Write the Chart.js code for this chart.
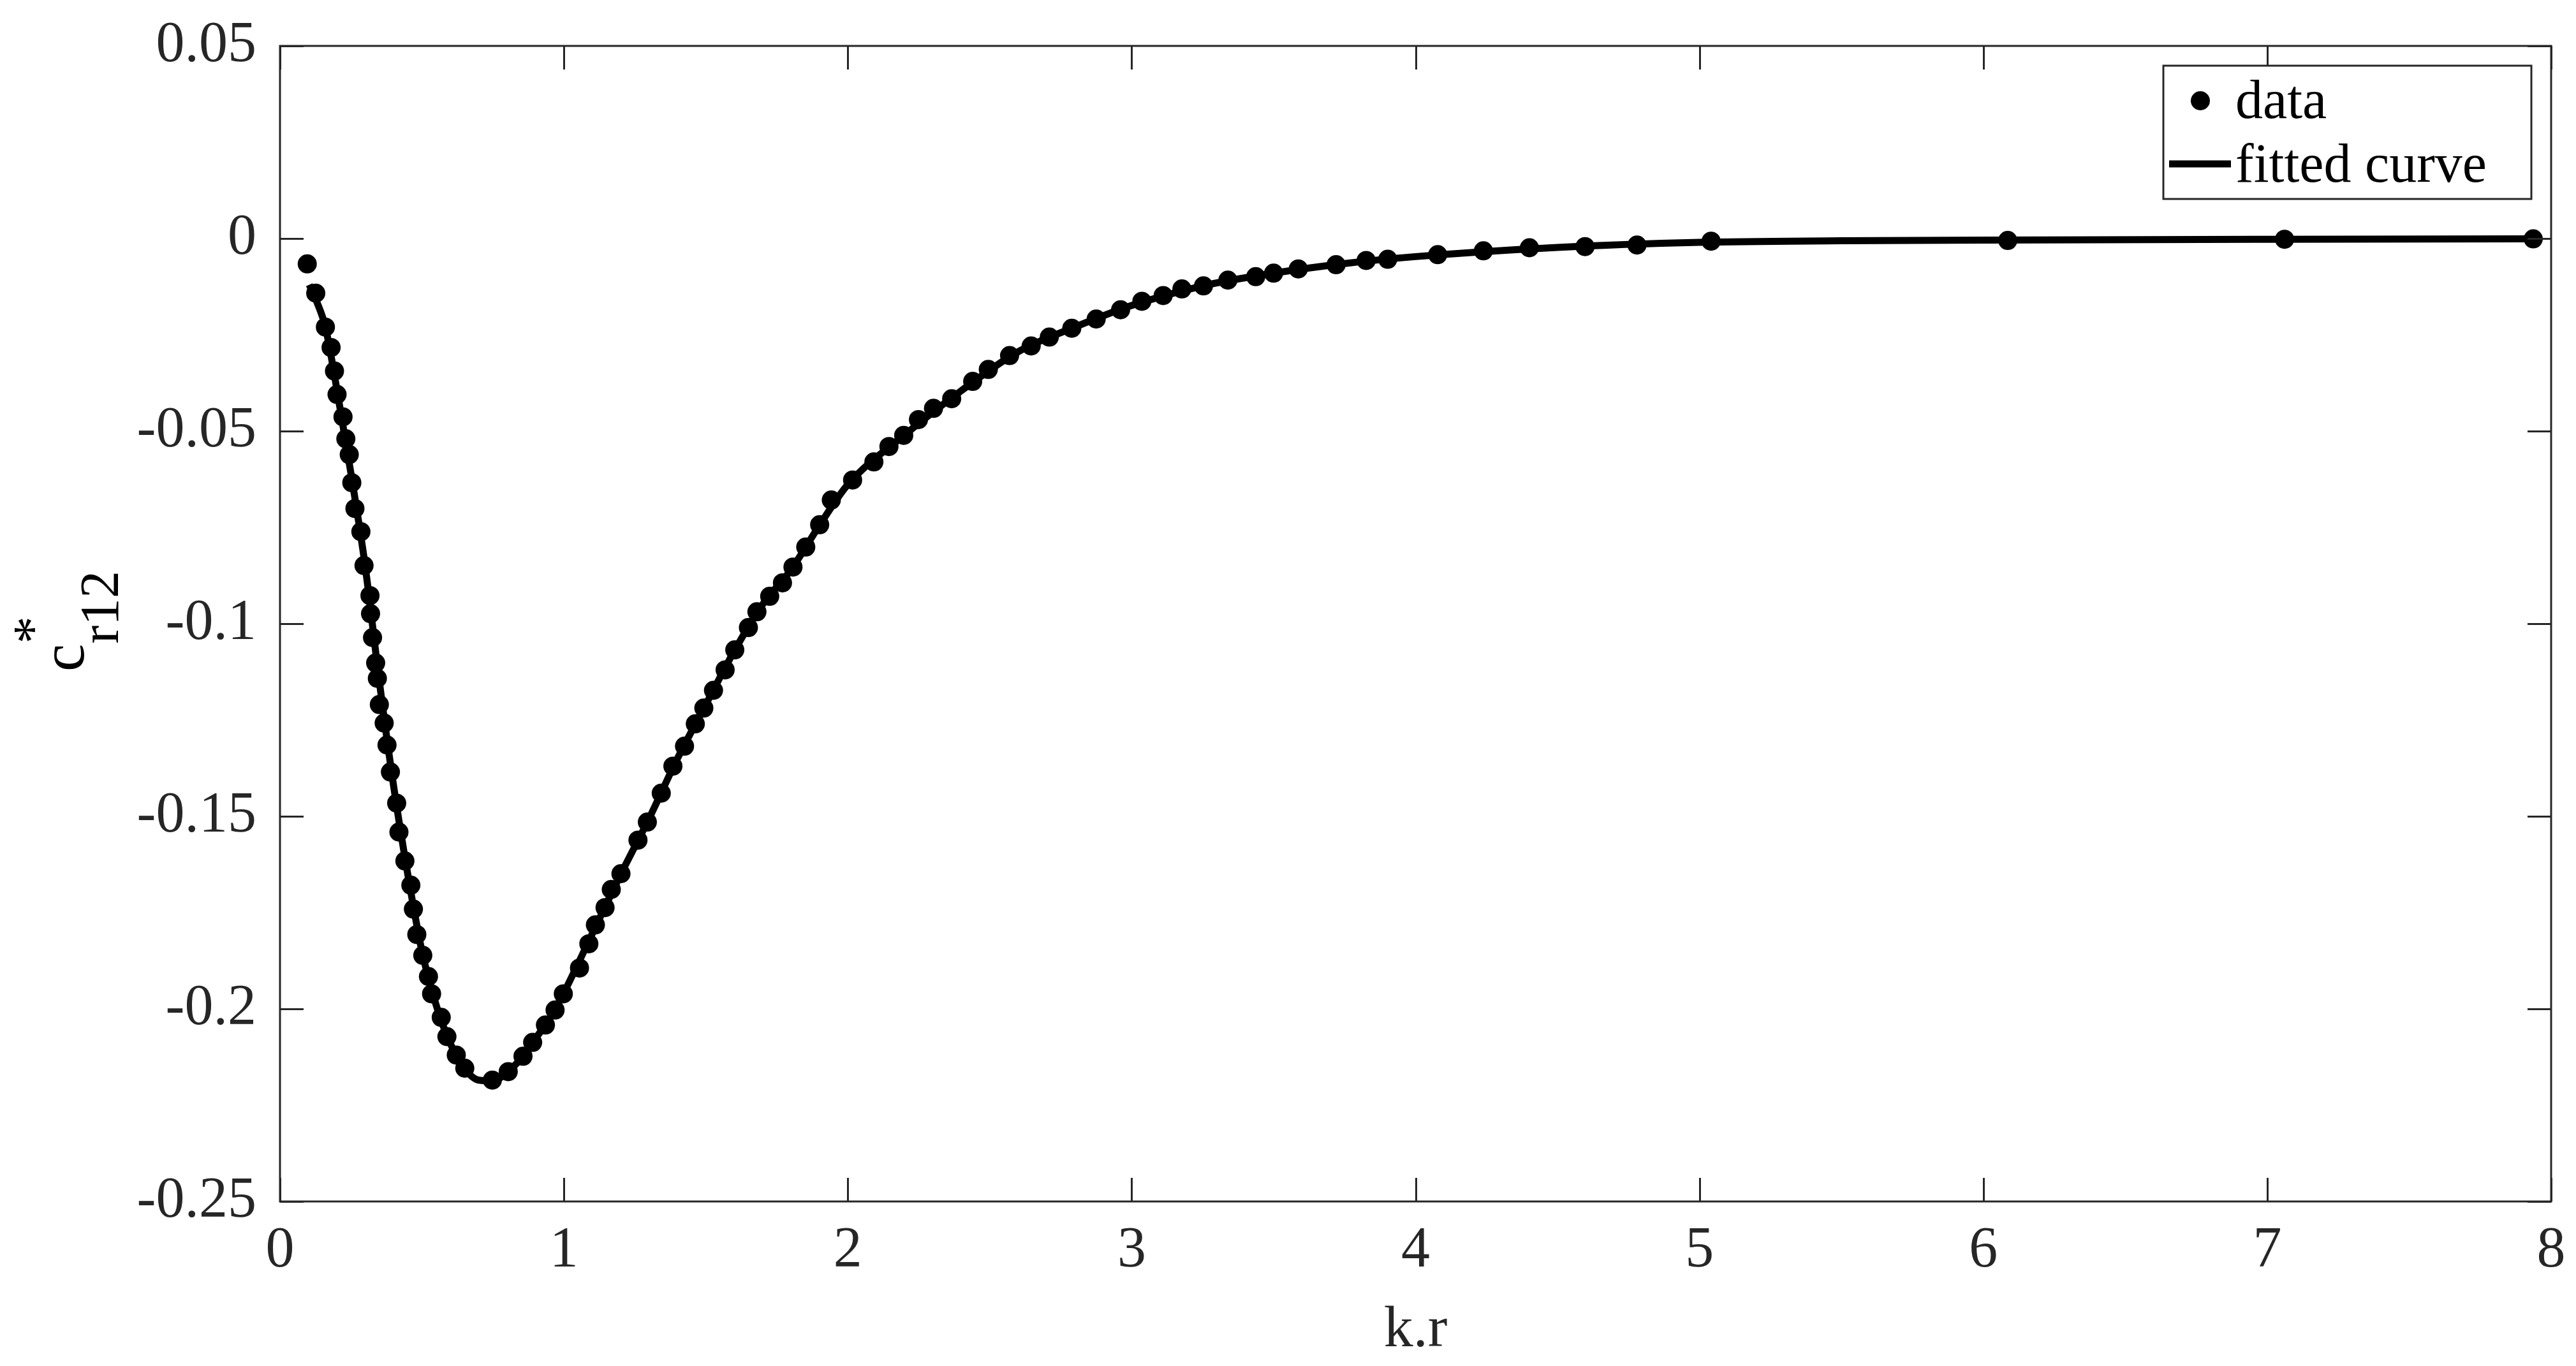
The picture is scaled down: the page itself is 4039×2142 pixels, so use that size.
<!DOCTYPE html>
<html>
<head>
<meta charset="utf-8">
<script src="https://cdn.jsdelivr.net/npm/chart.js@4.4.1/dist/chart.umd.min.js"></script>
<style>
  html, body { margin: 0; padding: 0; background: #fff; }
  #wrap { width: 4039px; height: 2142px; }
</style>
</head>
<body>
<div id="wrap"><canvas id="fitChart" width="4039" height="2142"></canvas></div>
<script>
const dataX = [
  0.096, 0.126, 0.160, 0.180, 0.192, 0.201, 0.222, 0.232, 0.244, 0.253,
  0.264, 0.285, 0.296, 0.317, 0.319, 0.326, 0.337, 0.343, 0.350, 0.367,
  0.377, 0.389, 0.411, 0.419, 0.440, 0.461, 0.470, 0.482, 0.503, 0.523,
  0.534, 0.568, 0.588, 0.621, 0.651, 0.748, 0.804, 0.856, 0.890, 0.935,
  0.969, 0.998, 1.055, 1.088, 1.111, 1.145, 1.167, 1.201, 1.261, 1.294,
  1.343, 1.384, 1.425, 1.463, 1.493, 1.527, 1.568, 1.602, 1.650, 1.680,
  1.725, 1.770, 1.807, 1.852, 1.901, 1.942, 2.017, 2.092, 2.145, 2.197,
  2.249, 2.302, 2.366, 2.440, 2.495, 2.570, 2.646, 2.710, 2.789, 2.875,
  2.961, 3.036, 3.111, 3.177, 3.253, 3.339, 3.437, 3.500, 3.587, 3.720,
  3.826, 3.902, 4.078, 4.239, 4.401, 4.597, 4.780, 5.041, 6.086, 7.061,
  7.937
];
const dataY = [
  -0.0066, -0.0142, -0.0230, -0.0283, -0.0344, -0.0405, -0.0463, -0.0520, -0.0561, -0.0634,
  -0.0701, -0.0761, -0.0849, -0.0927, -0.0974, -0.1036, -0.1102, -0.1142, -0.1210, -0.1258,
  -0.1315, -0.1385, -0.1466, -0.1541, -0.1616, -0.1679, -0.1741, -0.1807, -0.1861, -0.1916,
  -0.1961, -0.2022, -0.2072, -0.2120, -0.2154, -0.2185, -0.2163, -0.2123, -0.2087, -0.2042,
  -0.2003, -0.1961, -0.1894, -0.1831, -0.1782, -0.1737, -0.1690, -0.1649, -0.1562, -0.1515,
  -0.1440, -0.1370, -0.1318, -0.1260, -0.1219, -0.1173, -0.1120, -0.1068, -0.1010, -0.0969,
  -0.0929, -0.0894, -0.0853, -0.0801, -0.0743, -0.0679, -0.0627, -0.0580, -0.0540, -0.0511,
  -0.0470, -0.0441, -0.0416, -0.0371, -0.0340, -0.0304, -0.0279, -0.0256, -0.0233, -0.0209,
  -0.0185, -0.0163, -0.0148, -0.0131, -0.0123, -0.0108, -0.0099, -0.0090, -0.0079, -0.0068,
  -0.0057, -0.0054, -0.0042, -0.0032, -0.0024, -0.0021, -0.0017, -0.0007, -0.0005, -0.0002,
  -0.0001
];

const fitX = [
  0.103, 0.13, 0.16, 0.20, 0.25, 0.30, 0.35, 0.40, 0.45, 0.50,
  0.55, 0.60, 0.65, 0.70, 0.75, 0.80, 0.85, 0.90, 0.95, 1.00,
  1.10, 1.20, 1.30, 1.40, 1.50, 1.60, 1.70, 1.80, 1.90, 2.00,
  2.20, 2.40, 2.60, 2.80, 3.00, 3.25, 3.50, 3.75, 4.00, 4.50,
  5.00, 5.50, 6.00, 7.00, 7.94
];
const fitY = [
  -0.0120, -0.0165, -0.0230, -0.0390, -0.0610, -0.0850, -0.1150, -0.1420, -0.1650, -0.1850,
  -0.1990, -0.2090, -0.2155, -0.2185, -0.2187, -0.2165, -0.2128, -0.2077, -0.2025, -0.1958,
  -0.1805, -0.1651, -0.1506, -0.1350, -0.1210, -0.1071, -0.0950, -0.0860, -0.0745, -0.0639,
  -0.0510, -0.0395, -0.0294, -0.0230, -0.0174, -0.0123, -0.0090, -0.0065, -0.0047, -0.0023,
  -0.0010, -0.0006, -0.0004, -0.0002, -0.0001
];

const xTicks = [0, 1, 2, 3, 4, 5, 6, 7, 8];
const xTickLabels = ["0", "1", "2", "3", "4", "5", "6", "7", "8"];
const yTicks = [-0.25, -0.2, -0.15, -0.1, -0.05, 0, 0.05];
const yTickLabels = ["-0.25", "-0.2", "-0.15", "-0.1", "-0.05", "0", "0.05"];

const serif = "'Liberation Serif', 'Times New Roman', serif";
const axisColor = "#262626";

function findLabel(ticks, labels, v) {
  for (let i = 0; i < ticks.length; i++) {
    if (Math.abs(ticks[i] - v) < 1e-9) return labels[i];
  }
  return "";
}

const frameAndTicks = {
  id: "frameAndTicks",
  afterDraw(chart) {
    const ctx = chart.ctx;
    const a = chart.chartArea;
    const xs = chart.scales.x;
    const ys = chart.scales.y;
    const tl = 37;
    ctx.save();
    ctx.strokeStyle = axisColor;
    ctx.lineWidth = 3;
    ctx.beginPath();
    xTicks.forEach(v => {
      const px = Math.round(xs.getPixelForValue(v)) + 0.5;
      ctx.moveTo(px, a.bottom); ctx.lineTo(px, a.bottom - tl);
      ctx.moveTo(px, a.top); ctx.lineTo(px, a.top + tl);
    });
    yTicks.forEach(v => {
      const py = Math.round(ys.getPixelForValue(v)) + 0.5;
      ctx.moveTo(a.left, py); ctx.lineTo(a.left + tl, py);
      ctx.moveTo(a.right, py); ctx.lineTo(a.right - tl, py);
    });
    ctx.stroke();
    ctx.strokeRect(a.left, a.top, a.right - a.left, a.bottom - a.top);
    ctx.restore();
  }
};

const yTitle = {
  id: "yTitle",
  afterDraw(chart) {
    const ctx = chart.ctx;
    const a = chart.chartArea;
    ctx.save();
    ctx.fillStyle = "#000";
    ctx.textBaseline = "alphabetic";
    ctx.textAlign = "left";
    const mainFont = "98px " + serif;
    const subFont = "86px " + serif;
    ctx.font = mainFont;
    const wc = ctx.measureText("c").width;
    ctx.font = subFont;
    const ws = ctx.measureText("r12").width;
    const mid = (a.top + a.bottom) / 2 - 4;
    ctx.translate(131, mid + (wc + ws) / 2);
    ctx.rotate(-Math.PI / 2);
    ctx.font = mainFont;
    ctx.fillText("c", 0, 0);
    ctx.font = subFont;
    ctx.fillText("*", wc, -51);
    ctx.fillText("r12", wc, 54);
    ctx.restore();
  }
};

const boxLegend = {
  id: "boxLegend",
  afterDraw(chart) {
    const ctx = chart.ctx;
    const sets = chart.data.datasets;
    ctx.save();
    ctx.fillStyle = "#fff";
    ctx.fillRect(3392, 103, 577, 209);
    ctx.strokeStyle = axisColor;
    ctx.lineWidth = 3;
    ctx.strokeRect(3392, 103, 577, 209);
    ctx.fillStyle = "#000";
    ctx.beginPath();
    ctx.arc(3450, 158, 15, 0, Math.PI * 2);
    ctx.fill();
    ctx.strokeStyle = "#000";
    ctx.lineWidth = 11;
    ctx.beginPath();
    ctx.moveTo(3401, 257);
    ctx.lineTo(3498, 257);
    ctx.stroke();
    ctx.font = "86px " + serif;
    ctx.textBaseline = "alphabetic";
    ctx.fillText(sets[0].label, 3505, 185);
    ctx.fillText(sets[1].label, 3505, 285);
    ctx.restore();
  }
};

const ctx = document.getElementById("fitChart").getContext("2d");

new Chart(ctx, {
  type: "scatter",
  data: {
    datasets: [
      {
        label: "data",
        data: dataX.map((x, i) => ({ x: x, y: dataY[i] })),
        pointRadius: 15,
        pointHoverRadius: 15,
        pointBackgroundColor: "#000",
        pointBorderWidth: 0,
        showLine: false,
        clip: false
      },
      {
        label: "fitted curve",
        data: fitX.map((x, i) => ({ x: x, y: fitY[i] })),
        showLine: true,
        pointRadius: 0,
        borderColor: "#000",
        borderWidth: 11,
        cubicInterpolationMode: "monotone",
        clip: false
      }
    ]
  },
  options: {
    responsive: false,
    animation: false,
    devicePixelRatio: 1,
    layout: { padding: { top: 72, right: 39, left: 0, bottom: 0 } },
    plugins: {
      legend: { display: false },
      tooltip: { enabled: false }
    },
    scales: {
      x: {
        type: "linear",
        min: 0,
        max: 8,
        afterBuildTicks: s => { s.ticks = xTicks.map(v => ({ value: v })); },
        afterFit: s => {
          s.height = 258;
          s.paddingLeft = 0;
          s.paddingRight = 0;
        },
        grid: { display: false, drawTicks: false },
        border: { display: false },
        ticks: {
          padding: 24,
          maxRotation: 0,
          autoSkip: false,
          color: axisColor,
          font: { family: serif, size: 90 },
          callback: v => findLabel(xTicks, xTickLabels, v)
        },
        title: {
          display: true,
          text: "k.r",
          color: axisColor,
          font: { family: serif, size: 92 },
          padding: { top: 0, bottom: 0 }
        }
      },
      y: {
        type: "linear",
        min: -0.25,
        max: 0.05,
        afterBuildTicks: s => { s.ticks = yTicks.map(v => ({ value: v })); },
        afterFit: s => {
          s.width = 439;
          s.paddingTop = 0;
          s.paddingBottom = 0;
        },
        grid: { display: false, drawTicks: false },
        border: { display: false },
        ticks: {
          padding: 37,
          autoSkip: false,
          color: axisColor,
          font: { family: serif, size: 90 },
          callback: v => findLabel(yTicks, yTickLabels, v)
        }
      }
    }
  },
  plugins: [frameAndTicks, yTitle, boxLegend]
});
</script>
</body>
</html>
